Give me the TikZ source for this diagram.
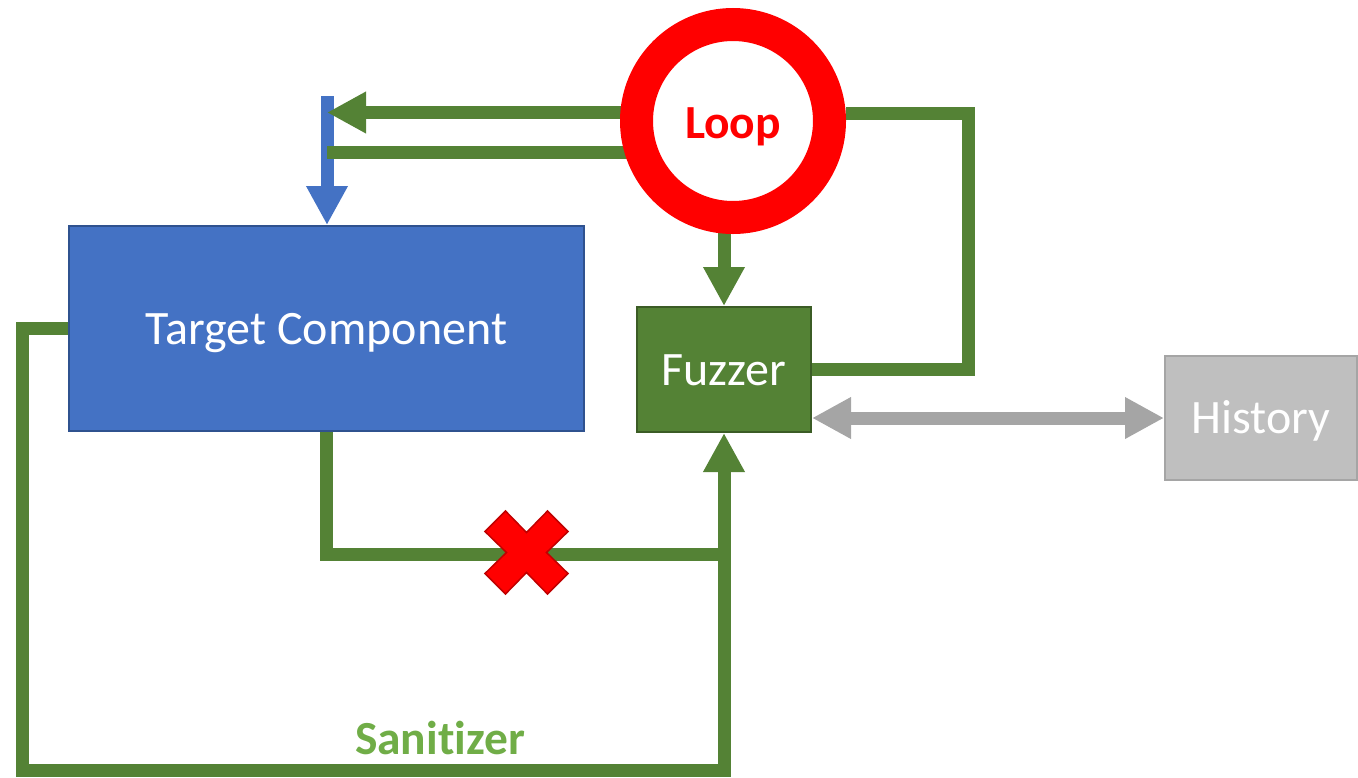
\documentclass[tikz,border=0pt]{standalone}
\usepackage{fontspec}
\setmainfont[RawFeature={-liga;-clig;-dlig}]{Carlito}
\usetikzlibrary{arrows.meta,backgrounds}

\definecolor{boxblue}{HTML}{4472C4}
\definecolor{blueedge}{HTML}{2F528F}
\definecolor{fgreen}{HTML}{548235}
\definecolor{fgreenedge}{HTML}{3B5C25}
\definecolor{histfill}{HTML}{BFBFBF}
\definecolor{histgray}{HTML}{A5A5A5}
\definecolor{sangreen}{HTML}{70AD47}
\definecolor{xedge}{HTML}{C00000}

\begin{document}
\begin{tikzpicture}[x=1pt,y=-1pt,
  txt/.style={font=\fontsize{48}{57}\selectfont, text height=31pt, text depth=0pt, inner sep=0pt},
  boldtxt/.style={font=\fontsize{47.5}{57}\selectfont\bfseries, inner sep=0pt},
  gline/.style={draw=fgreen, line width=13pt, line join=miter},
  bigtip/.style={-{Triangle[length=39pt,width=39pt]}},
  twotips/.style={{Triangle[length=39pt,width=39pt]}-{Triangle[length=39pt,width=39pt]}}]

\useasboundingbox (0,0) rectangle (1358,777);

% blocks
\node[txt, rectangle, fill=boxblue, draw=blueedge, line width=2pt, text=white,
      minimum width=515pt, minimum height=205pt] (target) at (326.5,328.5) {Target Component};
\node[txt, rectangle, fill=fgreen, draw=fgreenedge, line width=2pt, text=white,
      minimum width=174pt, minimum height=125pt] (fuzzer) at (724,369.5) {Fuzzer};
\node[txt, rectangle, fill=histfill, draw=histgray, line width=2pt, text=white,
      minimum width=192pt, minimum height=124pt] (history) at (1261,418) {History};
\node[circle, draw=red, line width=33pt, fill=white, minimum size=193pt, inner sep=0pt] (loop) at (733,121) {};
\node[boldtxt, text=red, anchor=base] (looplabel) at (733,138) {Loop};
\node[boldtxt, text=sangreen, anchor=base] (sanlabel) at (440,754) {Sanitizer};

% connector end points
\coordinate (bluestart) at (327,96);
\coordinate (intotop) at (327,112.5);
\coordinate (outtop) at (327,152.5);
\coordinate (drop) at (326.5,554.5);
\coordinate (merge) at (724,554.5);
\coordinate (xmark) at (526.5,552.5);

\begin{scope}[on background layer]
  % injection into the target
  \draw[draw=boxblue, line width=13pt, bigtip] (bluestart) -- (bluestart |- target.north);
  % loop interface
  \draw[gline, bigtip] (loop.center |- intotop) -- (intotop);
  \draw[gline] (loop.center |- outtop) -- (outtop);
  \draw[gline, bigtip] (fuzzer.north |- loop.center) -- (fuzzer.north);
  \draw[gline] ([yshift=8pt]loop.east) -| ([xshift=156pt]fuzzer.east) -- (fuzzer.east);
  % feedback paths
  \draw[gline] (target.south) -- (drop) -- (merge);
  \draw[gline, bigtip] (target.west) -| (22,770.5) -| (fuzzer.south);
  % history exchange
  \draw[draw=histgray, line width=13pt, twotips] (fuzzer.east |- history.west) -- (history.west);
\end{scope}

% blocked path
\draw[fill=red, draw=xedge, line width=1.5pt, line join=miter, shift={(xmark)}]
  (0,-20) -- (21,-41.5) -- (41.5,-21) -- (20,0) -- (41.5,21) -- (21,41.5) --
  (0,20) -- (-21,41.5) -- (-41.5,21) -- (-20,0) -- (-41.5,-21) -- (-21,-41.5) -- cycle;

\end{tikzpicture}
\end{document}
